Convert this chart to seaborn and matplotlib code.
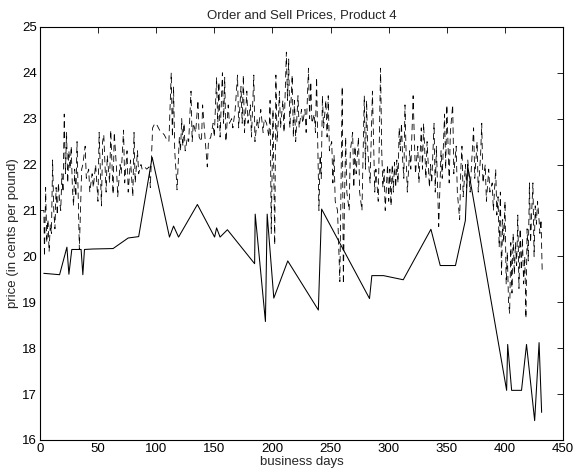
import matplotlib
matplotlib.use("Agg")
import matplotlib.pyplot as plt
import seaborn as sns
import numpy as np

# Order price (solid): business day, price in cents per pound
order_days = [3.4, 17, 23.3, 25, 27.5, 35.5, 37, 38.4, 45.4, 63, 76, 85, 96.6,
              111.5, 115, 119.3, 135.5, 150.3, 152, 155, 161.3, 184.7, 185.2,
              194, 195.5, 201.2, 213.2, 239.5, 242.3, 283.5, 285.5, 295.5,
              312.5, 336.3, 344.3, 357.4, 365.9, 367.9, 401.4, 402.3, 405.7,
              414.2, 418.5, 425.5, 429.3, 431.5]
order_price = [19.63, 19.6, 20.2, 19.61, 20.15, 20.15, 19.6, 20.15, 20.16, 20.17,
               20.4, 20.43, 22.16, 20.42, 20.66, 20.42, 21.13, 20.42, 20.62,
               20.42, 20.58, 19.84, 20.92, 18.58, 20.92, 19.09, 19.9, 18.83,
               21.03, 19.08, 19.58, 19.58, 19.49, 20.59, 19.8, 19.8, 20.78,
               21.97, 17.08, 18.08, 17.08, 17.08, 18.08, 16.42, 18.12, 16.6]

# Sell price (dashed): (business day, price)
sell_points = [
    (0, 21.0), (2, 21.0), (3.5, 21.0), (4, 20.0), (5, 21.5), (6, 20.3), (7, 20.8),
    (8, 20.1), (9, 20.7), (10, 20.5), (11, 22.1), (12, 21.0), (13, 20.6),
    (14, 21.5), (15, 20.9), (16, 21.6), (17, 21.2), (18, 21.0), (19, 21.8),
    (20, 21.4), (21, 23.1), (22, 21.8), (23, 22.7), (24, 21.6), (25, 22.3),
    (26, 21.9), (27, 22.4), (28, 21.5), (29, 21.1), (30, 21.9), (31, 21.3),
    (32, 22.5), (34, 20.15), (36, 21.9), (37, 22.0), (39, 22.4), (40, 21.7),
    (42, 21.9), (43, 21.4), (45, 21.8), (46, 21.5), (48, 22.0), (50, 21.2),
    (51, 22.7), (53, 21.1), (54, 22.5), (55, 22.65), (57, 21.4), (58, 22.2),
    (60, 21.6), (61, 22.75), (63, 21.35), (64, 22.7), (66, 21.9), (67, 21.3),
    (69, 22.0), (70, 21.8), (72, 22.75), (73, 21.6), (75, 22.3), (76, 21.4),
    (78, 22.1), (80, 21.3), (81, 22.7), (82, 21.6), (84, 22.3), (85, 21.8),
    (87, 22.0), (88, 21.9), (90, 21.95), (92, 21.9), (94, 21.95), (95, 21.5),
    (97, 22.8), (99, 22.9), (101, 22.85), (103, 22.75), (105, 22.7),
    (107, 22.65), (109, 22.55), (111, 22.5), (113, 24.0), (114, 22.6),
    (115, 23.7), (116, 22.3), (117, 21.9), (118, 21.45), (119, 22.0),
    (120, 22.6), (121, 22.3), (122, 23.0), (123, 22.4), (124, 22.9),
    (125, 22.3), (127, 22.6), (128, 22.5), (130, 23.6), (131, 22.5),
    (132, 22.9), (134, 22.7), (136, 23.4), (137, 22.6), (139, 22.5),
    (140, 23.3), (142, 22.6), (144, 21.95), (145, 22.5), (147, 22.6),
    (149, 22.9), (150, 22.6), (152, 23.9), (153, 22.8), (154, 23.8),
    (155, 22.6), (157, 24.0), (158, 22.9), (159, 23.9), (160, 22.5),
    (162, 23.3), (163, 22.9), (165, 23.0), (166, 22.8), (168, 23.2),
    (170, 23.95), (171, 22.8), (173, 23.7), (174, 22.9), (175, 23.95),
    (176, 22.7), (178, 23.6), (179, 22.9), (181, 23.3), (182, 22.6),
    (184, 23.95), (185, 22.5), (187, 23.0), (188, 22.8), (190, 23.2),
    (192, 22.7), (193, 23.0), (195, 22.9), (197, 22.6), (198, 23.4),
    (199, 20.5), (200.5, 23.2), (202, 20.25), (203, 23.95), (204, 22.5),
    (205, 22.9), (206, 23.6), (207, 22.8), (209, 23.4), (210, 22.7),
    (212, 24.45), (213, 23.4), (214, 24.3), (215, 22.8), (217, 23.95),
    (218, 22.6), (219, 23.4), (220, 22.5), (222, 23.5), (223, 22.8),
    (225, 23.2), (226, 22.9), (228, 23.2), (229, 22.7), (231, 24.1),
    (232, 23.0), (233, 23.8), (234, 22.9), (236, 23.1), (237, 22.7),
    (238, 23.9), (239, 22.4), (240, 21.0), (241, 22.2), (242, 21.7),
    (243, 23.5), (244, 22.8), (246, 23.4), (247, 22.6), (248, 23.5),
    (249, 22.3), (251, 22.5), (252, 21.6), (253, 22.2), (254, 21.2),
    (256, 21.0), (257, 20.2), (258, 19.45), (259, 21.6), (260, 23.7),
    (261, 19.4), (262, 21.2), (263, 22.6), (264, 21.4), (266, 21.0),
    (267, 22.3), (269, 22.7), (270, 21.5), (271, 22.4), (272, 21.8),
    (274, 22.6), (275, 21.4), (277, 21.0), (279, 23.5), (280, 21.9),
    (281, 23.4), (282, 22.3), (284, 21.6), (286, 23.6), (287, 22.5),
    (288, 21.4), (289, 21.9), (291, 21.2), (293, 24.1), (294, 22.3),
    (295, 21.5), (296, 21.9), (297, 21.0), (299, 22.0), (300, 21.2),
    (301, 21.9), (302, 21.1), (303, 22.0), (304, 21.4), (305, 22.05),
    (306, 21.5), (307, 22.1), (308, 21.6), (309, 22.8), (310, 22.3),
    (311, 22.9), (312, 22.1), (313, 21.7), (314, 23.3), (315, 22.2),
    (316, 21.4), (318, 22.3), (319, 21.9), (321, 23.5), (322, 22.6),
    (323, 21.8), (325, 22.4), (326, 21.6), (328, 22.8), (329, 21.9),
    (330, 22.9), (332, 21.7), (333, 22.5), (335, 21.5), (336, 22.0),
    (337, 21.6), (339, 22.9), (340, 21.4), (341, 22.4), (342, 21.5),
    (343, 20.65), (345, 22.3), (346, 21.7), (348, 23.1), (349, 21.9),
    (350, 23.3), (352, 21.6), (353, 22.7), (355, 23.3), (356, 21.8),
    (358, 22.4), (359, 21.4), (361, 20.8), (362, 21.9), (363, 22.4),
    (364, 21.3), (366, 22.0), (367, 21.5), (368, 22.1), (370, 21.4),
    (371, 21.9), (373, 22.8), (374, 21.7), (376, 22.5), (377, 21.4),
    (379, 22.2), (380, 22.9), (381, 21.6), (383, 22.0), (384, 21.2),
    (386, 21.9), (387, 21.4), (389, 21.6), (390, 21.0), (392, 21.9),
    (393, 20.9), (394, 21.3), (395, 20.2), (396, 21.4), (397, 19.6),
    (398, 20.8), (399, 20.3), (400, 21.2), (401, 19.4), (402, 20.1),
    (403, 19.0), (404, 18.76), (405, 20.3), (406, 19.2), (407, 20.5),
    (408, 19.6), (409, 20.3), (410, 19.8), (411, 20.9), (412, 19.3),
    (413, 20.6), (414, 19.7), (415, 20.4), (416, 19.4), (417, 20.0),
    (418, 18.65), (419, 20.6), (420, 19.9), (421, 21.6), (422, 20.3),
    (423, 21.0), (424, 21.6), (425, 20.0), (426, 21.1), (427, 20.7),
    (428, 21.2), (429, 20.9), (430, 20.5), (431, 20.8), (432, 19.65),
]
sell_days = [p[0] for p in sell_points]
sell_price = [p[1] for p in sell_points]

x_ticks = list(range(0, 451, 50))
y_ticks = list(range(16, 26))

sns.set_style("white")
plt.rcParams["font.family"] = ["Liberation Sans", "DejaVu Sans"]
plt.rcParams.update({
    "xtick.direction": "in", "ytick.direction": "in",
    "xtick.top": True, "ytick.right": True,
    "xtick.major.size": 4, "ytick.major.size": 4,
    "xtick.major.width": 0.6, "ytick.major.width": 0.6,
    "axes.edgecolor": "black", "axes.linewidth": 0.8,
    "lines.scale_dashes": False,
})

fig = plt.figure(figsize=(5.77, 4.72), dpi=100)
ax = fig.add_axes([0.069, 0.068, 0.907, 0.875])

sns.lineplot(x=sell_days, y=sell_price, ax=ax, color="black", linewidth=0.6,
             linestyle=(0, (4.5, 3.0)), estimator=None, sort=False)
sns.lineplot(x=order_days, y=order_price, ax=ax, color="black", linewidth=0.75,
             estimator=None, sort=False)

ax.set_xlim(0, 450)
ax.set_ylim(16, 25)
ax.set_xticks(x_ticks)
ax.set_yticks(y_ticks)
ax.tick_params(labelsize=9.5, pad=2, colors="black")
for s in ax.spines.values():
    s.set_visible(True)
ax.set_title("Order and Sell Prices, Product 4", fontsize=9.5, pad=6)
ax.set_xlabel("business days", fontsize=9.5, labelpad=1)
ax.set_ylabel("price (in cents per pound)", fontsize=9.5, labelpad=2)

fig.savefig("out.png", dpi=100, facecolor="white")
